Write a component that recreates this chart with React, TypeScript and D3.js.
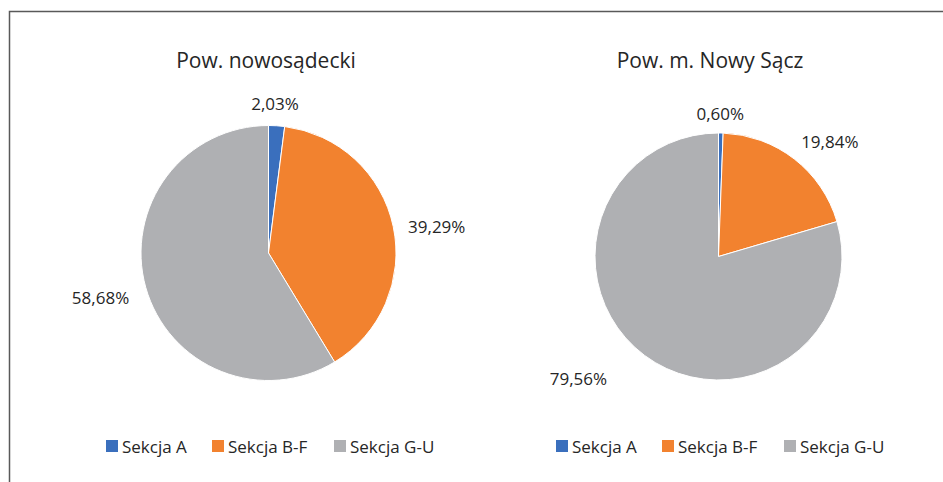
import React from 'react';
import * as d3 from 'd3';

// data
const sections = ['Sekcja A', 'Sekcja B-F', 'Sekcja G-U'];
const nowosadeckiValues = [2.03, 39.29, 58.68];
const nowySaczValues = [0.6, 19.84, 79.56];
const chartTitles = ['Pow. nowosądecki', 'Pow. m. Nowy Sącz'];

const colors = ['#3A6FBD', '#F2822F', '#AFB0B3'];
const FONT = "'Open Sans', sans-serif";

const W = 943;
const H = 482;

// layout of each pie panel (label nudges mimic Excel's outside-end placement)
const panels = [
    {
        values: nowosadeckiValues,
        title: chartTitles[0],
        cx: 268.5, cy: 253, r: 127.5,
        titleX: 266,
        legendX: 106,
        nudges: [[-3, 0], [22, 4], [-24, 4]],
    },
    {
        values: nowySaczValues,
        title: chartTitles[1],
        cx: 718.5, cy: 256.5, r: 123.5,
        titleX: 710,
        legendX: 556,
        nudges: [[-1, 2], [22, 0], [-53, 5]],
    },
];

const fmt = (v: number) => v.toFixed(2).replace('.', ',') + '%';

const Pie = ({ panel }: { panel: typeof panels[number] }) => {
    const pie = d3.pie<number>().sort(null).value(d => d);
    const arcs = pie(panel.values);
    const arc = d3.arc<d3.PieArcDatum<number>>().innerRadius(0).outerRadius(panel.r);
    const labelR = panel.r + 22;
    const legendOffsets = [0, 106, 228];

    return (
        <g>
            <text x={panel.titleX} y={60} textAnchor="middle" dominantBaseline="central"
                fontSize={21} fill="#262626">{panel.title}</text>
            <g transform={`translate(${panel.cx},${panel.cy})`}>
                {arcs.map((a, i) => (
                    <path key={i} d={arc(a) || ''} fill={colors[i]} stroke="#fff" strokeWidth={1} />
                ))}
                {arcs.map((a, i) => {
                    const mid = (a.startAngle + a.endAngle) / 2;
                    const x = Math.sin(mid) * labelR + panel.nudges[i][0];
                    const y = -Math.cos(mid) * labelR + panel.nudges[i][1];
                    return (
                        <text key={i} x={x} y={y} textAnchor="middle" dominantBaseline="central"
                            fontSize={17} fill="#262626">{fmt(a.data)}</text>
                    );
                })}
            </g>
            {sections.map((s, i) => (
                <g key={s} transform={`translate(${panel.legendX + legendOffsets[i]},446)`}>
                    <rect x={0} y={-6} width={12} height={12} fill={colors[i]} />
                    <text x={16} y={0} dominantBaseline="central" fontSize={17} fill="#262626">{s}</text>
                </g>
            ))}
        </g>
    );
};

export default function App() {
    return (
        <svg width={W} height={H} style={{ position: 'absolute', left: 0, top: 0, fontFamily: FONT }}>
            <rect width={W} height={H} fill="#fff" />
            <path d={`M9.5,${H} L9.5,11.5 L${W},11.5`} fill="none" stroke="#595959" strokeWidth={1.5} />
            {panels.map((p, i) => <Pie key={i} panel={p} />)}
        </svg>
    );
}
